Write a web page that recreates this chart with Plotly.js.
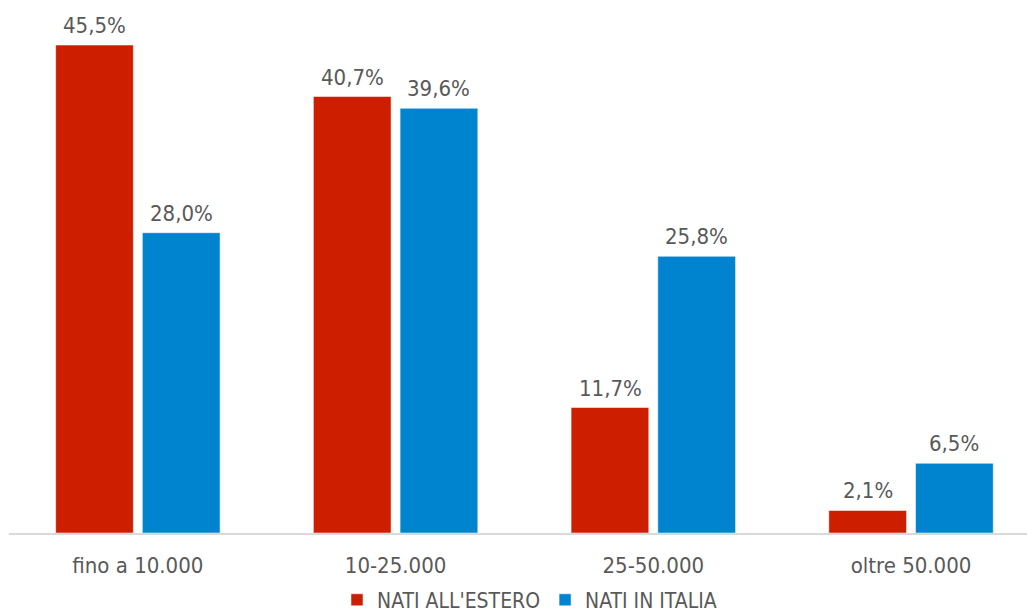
<!DOCTYPE html>
<html>
<head>
<meta charset="utf-8">
<script src="https://cdn.plot.ly/plotly-3.0.1.min.js"></script>
<style>html,body{margin:0;padding:0;background:#fff;}#chart{width:1027px;height:616px;}</style>
</head>
<body>
<div id="chart"></div>
<script>
const categories = ["fino a 10.000", "10-25.000", "25-50.000", "oltre 50.000"];
const natiEstero = [45.5, 40.7, 11.7, 2.1];
const natiItalia = [28.0, 39.6, 25.8, 6.5];
const seriesNames = ["NATI ALL'ESTERO", "NATI IN ITALIA"];
const colors = ["#CD1F00", "#0084CF"];

const FONT = "DejaVu Sans Condensed, DejaVu Sans, sans-serif";
const GRAY = "#595959";
const fmt = v => v.toFixed(1).replace('.', ',') + '%';

const traces = [natiEstero, natiItalia].map((vals, i) => ({
  type: 'bar',
  name: seriesNames[i],
  x: categories,
  y: vals,
  marker: {color: colors[i], line: {color: 'rgba(255,255,255,0.5)', width: 1}},
  hoverinfo: 'none'
}));

const slotPx = 43.3;
const annotations = [];
[natiEstero, natiItalia].forEach((vals, i) => {
  vals.forEach((v, j) => {
    annotations.push({
      x: categories[j], y: v, xref: 'x', yref: 'y',
      text: fmt(v), showarrow: false,
      xshift: i === 0 ? -slotPx : slotPx,
      yanchor: 'bottom', yshift: 5,
      font: {family: FONT, size: 22, color: GRAY}
    });
  });
});

const layout = {
  width: 1027, height: 616,
  margin: {l: 9, r: 0, t: 0, b: 83, pad: 0, autoexpand: false},
  paper_bgcolor: '#fff', plot_bgcolor: '#fff',
  barmode: 'group', bargap: 0.327, bargroupgap: 0.104,
  showlegend: true,
  legend: {
    orientation: 'h', xref: 'paper', yref: 'paper',
    x: 0.5113, xanchor: 'center', y: -0.126, yanchor: 'middle',
    font: {family: FONT, size: 21, color: GRAY},
    itemclick: false, itemdoubleclick: false
  },
  xaxis: {
    type: 'category', range: [-0.5, 3.45], automargin: false,
    showline: true, linecolor: '#d9d9d9', linewidth: 1.5,
    showgrid: false, zeroline: false, ticks: '',
    ticklabelstandoff: 12, tickangle: 0,
    tickfont: {family: FONT, size: 22, color: GRAY},
    fixedrange: true
  },
  yaxis: {
    range: [0, 49.7], visible: false, showgrid: false, zeroline: false, fixedrange: true, automargin: false
  },
  annotations: annotations,
  font: {family: FONT, color: GRAY}
};

Plotly.newPlot('chart', traces, layout, {displayModeBar: false, staticPlot: true});
</script>
</body>
</html>
